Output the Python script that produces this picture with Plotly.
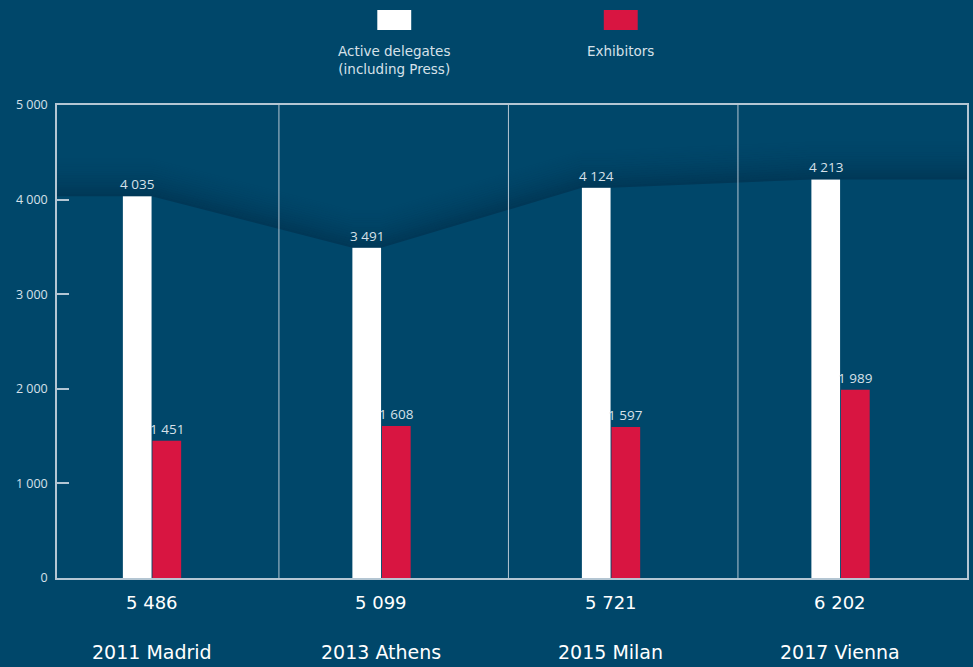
import plotly.graph_objects as go

# ---- data ----
events = ["2011 Madrid", "2013 Athens", "2015 Milan", "2017 Vienna"]
delegates = [4035, 3491, 4124, 4213]
exhibitors = [1451, 1608, 1597, 1989]
series_names = ["Active delegates<br>(including Press)", "Exhibitors"]
y_ticks = [0, 1000, 2000, 3000, 4000, 5000]

BG = "#00476a"
WHITE = "#ffffff"
RED = "#d81541"
AXIS = "#b4c6d3"
TXT = "#d6e1e9"

def fmt(v):
    return f"{v:,}".replace(",", " ")

totals = [d + e for d, e in zip(delegates, exhibitors)]
xs = list(range(len(events)))
BW = 0.125
XMIN, XMAX = -0.412, 3.553

fig = go.Figure()

# bars
fig.add_trace(go.Bar(x=xs, y=delegates, width=BW, offset=-BW, marker=dict(color=WHITE, line=dict(width=0)),
                     name="Active delegates", showlegend=False, hoverinfo="y"))
fig.add_trace(go.Bar(x=xs, y=exhibitors, width=BW, offset=0.004, marker=dict(color=RED, line=dict(width=0)),
                     name="Exhibitors", showlegend=False, hoverinfo="y"))

# shadow path above delegates tops
px = [XMIN]
py = [delegates[0]]
for i, v in enumerate(delegates):
    px += [i - BW, i]
    py += [v, v]
px.append(XMAX)
py.append(delegates[-1])

N = 18
step = 24
fig.add_trace(go.Scatter(x=px, y=py, mode="lines", line=dict(width=0), showlegend=False, hoverinfo="skip"))
for k in range(1, N + 1):
    a = 0.28 * (1 - (k - 1) / N) ** 2.0
    fig.add_trace(go.Scatter(x=px, y=[v + k * step for v in py], mode="lines", line=dict(width=0),
                             fill="tonexty", fillcolor=f"rgba(0,18,38,{a:.3f})",
                             showlegend=False, hoverinfo="skip"))

shapes = []
# separators
for i in range(len(events) - 1):
    shapes.append(dict(type="line", xref="x", yref="paper", x0=i + 0.555, x1=i + 0.555, y0=0, y1=1,
                       line=dict(color=AXIS, width=1)))
# legend swatches
shapes.append(dict(type="rect", xref="paper", yref="paper", x0=(378 - 57) / 912, x1=(412 - 57) / 912,
                   y0=1 + (105 - 30) / 473, y1=1 + (105 - 10) / 473, fillcolor=WHITE, line=dict(width=0)))
shapes.append(dict(type="rect", xref="paper", yref="paper", x0=(605 - 57) / 912, x1=(639 - 57) / 912,
                   y0=1 + (105 - 30) / 473, y1=1 + (105 - 10) / 473, fillcolor=RED, line=dict(width=0)))

annotations = []
# value labels
for i, v in enumerate(delegates):
    annotations.append(dict(text=fmt(v), xref="x", yref="y", x=i - BW / 2, y=v, yshift=1,
                            xanchor="center", yanchor="bottom", showarrow=False,
                            font=dict(family="Open Sans", size=13.5, color=TXT)))
for i, v in enumerate(exhibitors):
    annotations.append(dict(text=fmt(v), xref="x", yref="y", x=i + BW / 2 + 0.004, y=v, yshift=1,
                            xanchor="center", yanchor="bottom", showarrow=False,
                            font=dict(family="Open Sans", size=13.5, color=TXT)))
# legend labels
for nm, cx in zip(series_names, [395, 622]):
    annotations.append(dict(text=nm, xref="paper", yref="paper", x=(cx - 57) / 912, y=1 + (105 - 41) / 473,
                            xanchor="center", yanchor="top", showarrow=False,
                            font=dict(family="DejaVu Sans", size=13.5, color=TXT)))
# totals and event names
for i, (ev, t) in enumerate(zip(events, totals)):
    annotations.append(dict(text=fmt(t), xref="x", yref="paper", x=i, y=0, yshift=-24,
                            xanchor="center", yanchor="middle", showarrow=False,
                            font=dict(family="DejaVu Sans", size=18, color=WHITE)))
    annotations.append(dict(text=ev, xref="x", yref="paper", x=i, y=0, yshift=-74,
                            xanchor="center", yanchor="middle", showarrow=False,
                            font=dict(family="DejaVu Sans", size=19, color=WHITE)))

fig.update_layout(
    width=973, height=667,
    paper_bgcolor=BG, plot_bgcolor=BG,
    margin=dict(l=57, r=4, t=105, b=89),
    barmode="overlay",
    separators=". ",
    showlegend=False,
    shapes=shapes,
    annotations=annotations,
    xaxis=dict(range=[XMIN, XMAX], showgrid=False, zeroline=False, showticklabels=False,
               showline=True, linecolor=AXIS, linewidth=1.5, mirror=True, ticks=""),
    yaxis=dict(range=[0, 5000], tickvals=y_ticks, ticktext=[fmt(v) for v in y_ticks],
               showgrid=False, zeroline=False, showline=True, linecolor=AXIS, linewidth=1.5, mirror=True,
               ticks="inside", ticklen=12, tickcolor=AXIS, tickwidth=1.5,
               tickfont=dict(family="Open Sans", size=12.5, color=TXT), ticklabelstandoff=5),
)

fig.write_html("out.html", config={"displayModeBar": False},
               post_script="document.body.style.margin='0';document.body.style.overflow='hidden';"
                           "document.body.style.background='" + BG + "';")
